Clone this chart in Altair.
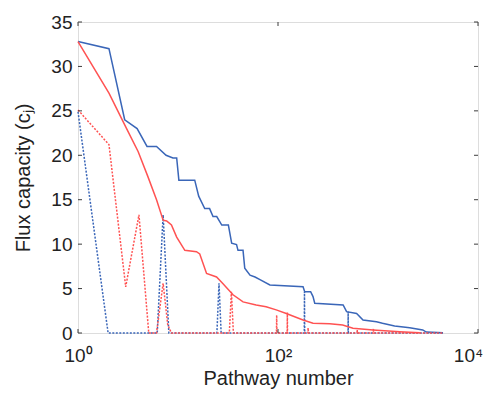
import altair as alt
import pandas as pd

# ---------------- data ----------------
blue_solid_n = [1, 2.04, 2.93, 3.9, 4.9, 6.1, 7.6, 8.9, 9.7, 10.2, 14.7, 16.1, 18.5, 20.7,
                22.4, 24.4, 27.4, 31.9, 34.4, 38.5, 39.8, 44.7, 46.5, 52.5, 58.9, 66, 83,
                178, 185, 212, 224, 233, 448, 485, 611, 708, 965, 1109, 1466, 2075, 2800,
                3040, 4470]
blue_solid_v = [32.8, 32.0, 24.0, 23.0, 21.0, 21.0, 20.0, 19.7, 19.7, 17.2, 17.2, 15.4, 14.0,
                14.0, 13.1, 13.1, 12.15, 12.15, 10.1, 9.95, 9.3, 9.3, 7.3, 6.5, 6.3, 6.0, 5.4,
                5.2, 4.65, 4.65, 4.1, 3.35, 3.15, 2.4, 2.2, 1.46, 1.27, 1.1, 0.8, 0.6, 0.34,
                0.1, 0.03]

red_solid_n = [1, 2.04, 3, 4, 5, 6.1, 7.1, 7.7, 8.6, 9.7, 11.7, 15.3, 16.5, 19.3, 24.3, 27.9,
               35.5, 44.7, 60.5, 76, 96, 121, 178, 224, 329, 443, 562, 891, 1652, 2620]
red_solid_v = [32.8, 27.0, 23.2, 20.4, 17.6, 15.0, 12.7, 12.6, 12.15, 10.8, 9.3, 9.15, 8.9,
               6.7, 6.3, 5.6, 4.3, 3.5, 3.15, 2.95, 2.6, 2.2, 1.46, 1.09, 1.05, 0.9, 0.53,
               0.34, 0.15, 0.03]

blue_dot_n = [1, 2.0, 6.2, 7.1, 8.1, 24.5, 25.7, 27, 183, 184, 185, 502, 503, 505, 4470]
blue_dot_v = [24.9, 0, 0, 13.3, 0, 0, 5.6, 0, 0, 4.65, 0, 0, 2.4, 0, 0]

red_dot_n = [1, 2.04, 3.0, 4.07, 5.1, 6.1, 7.1, 7.9, 8.6, 32.6, 34.2, 35.8, 96.5, 97, 97.5,
             123.5, 124, 124.5, 199, 200, 201, 618, 620, 622, 898, 900, 902, 4470]
red_dot_v = [25.1, 21.2, 5.2, 13.3, 0, 0, 5.6, 0.9, 0, 0, 4.65, 0, 0, 2.0, 0, 0, 2.3, 0, 0,
             0.6, 0, 0, 0.34, 0, 0, 0.5, 0, 0]

x_tick_values = [1, 100, 10000]
x_tick_labels = ["10\u2070", "10\u00b2", "10\u2074"]
y_tick_values = [0, 5, 10, 15, 20, 25, 30, 35]

x_title = "Pathway number"
y_title = "Flux capacity (c\u2c7c)"

# ---------------- styling ----------------
W, H = 400, 311
BLUE = "#3a66b8"
RED = "#ff5252"
FRAME = "#3c3c3c"
FONT = "Liberation Sans"
TXT = "#222222"

label_expr = " : ".join(
    f"datum.value == {v} ? '{l}'" for v, l in zip(x_tick_values[:-1], x_tick_labels[:-1])
) + f" : '{x_tick_labels[-1]}'"

x_scale = alt.Scale(type="log", domain=[1, 10000])
y_scale = alt.Scale(domain=[0, 35], nice=False)

x_axis = alt.Axis(values=x_tick_values, labelExpr=label_expr, ticks=False, domain=False,
                  grid=False, labelFontSize=19, labelPadding=13, labelFont=FONT,
                  labelColor=TXT, title=x_title, titleFontSize=20, titleFont=FONT,
                  titleFontWeight="normal", titleColor=TXT, titlePadding=3, labelFlush=False,
                  labelOffset={"condition": {"test": f"datum.value == {x_tick_values[-1]}",
                                             "value": -10}, "value": 0})
y_axis = alt.Axis(values=y_tick_values, ticks=False, domain=False, grid=False,
                  labelFontSize=19, labelPadding=6, labelFont=FONT, labelColor=TXT,
                  title=y_title, titleFontSize=20, titleFont=FONT, titleFontWeight="normal",
                  titleColor=TXT, titlePadding=17, labelFlush=False)


def series_df(n, v):
    return pd.DataFrame({"n": n, "v": v, "k": list(range(len(n)))})


def enc():
    return dict(x=alt.X("n:Q", scale=x_scale, axis=x_axis),
                y=alt.Y("v:Q", scale=y_scale, axis=y_axis),
                order=alt.Order("k:Q"))


blue_solid = alt.Chart(series_df(blue_solid_n, blue_solid_v)).mark_line(
    color=BLUE, strokeWidth=1.5).encode(**enc())
blue_dot = alt.Chart(series_df(blue_dot_n, blue_dot_v)).mark_line(
    color=BLUE, strokeWidth=1.5, strokeDash=[2, 1.5]).encode(**enc())
red_solid = alt.Chart(series_df(red_solid_n, red_solid_v)).mark_line(
    color=RED, strokeWidth=1.5).encode(**enc())
red_dot = alt.Chart(series_df(red_dot_n, red_dot_v)).mark_line(
    color=RED, strokeWidth=1.5, strokeDash=[2, 1.5]).encode(**enc())

ytick_df = pd.DataFrame({"v": y_tick_values})
xtick_df = pd.DataFrame({"n": x_tick_values})
TL = 4
left_ticks = alt.Chart(ytick_df).mark_rule(color=FRAME, strokeWidth=1).encode(
    y=alt.Y("v:Q", scale=y_scale, axis=y_axis), x=alt.value(0), x2=alt.value(TL))
right_ticks = alt.Chart(ytick_df).mark_rule(color=FRAME, strokeWidth=1).encode(
    y=alt.Y("v:Q", scale=y_scale, axis=y_axis), x=alt.value(W - TL), x2=alt.value(W))
bottom_ticks = alt.Chart(xtick_df).mark_rule(color=FRAME, strokeWidth=1).encode(
    x=alt.X("n:Q", scale=x_scale, axis=x_axis), y=alt.value(H - TL), y2=alt.value(H))
top_ticks = alt.Chart(xtick_df).mark_rule(color=FRAME, strokeWidth=1).encode(
    x=alt.X("n:Q", scale=x_scale, axis=x_axis), y=alt.value(0), y2=alt.value(TL))

chart = alt.layer(
    blue_solid, blue_dot, red_solid, red_dot,
    left_ticks, right_ticks, bottom_ticks, top_ticks,
).properties(
    width=W, height=H,
    autosize=alt.AutoSizeParams(type="none"),
    padding={"left": 70, "top": 14, "right": 7, "bottom": 58},
).configure_view(
    stroke=FRAME, strokeWidth=1.3
).configure(background="white")

chart.save("out.html", embed_options={"renderer": "svg", "actions": False})
